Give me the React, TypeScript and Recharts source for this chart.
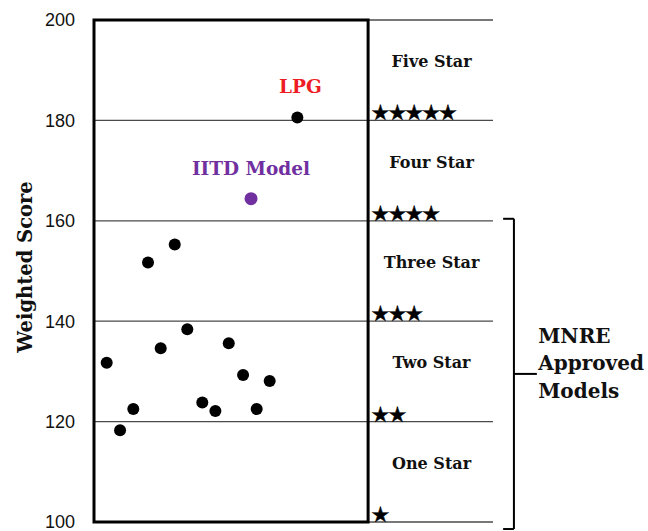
import React from 'react';
import {
  ComposedChart,
  Scatter,
  XAxis,
  YAxis,
  CartesianGrid,
  ReferenceArea,
  ReferenceLine,
  ReferenceDot,
} from 'recharts';

// ---- data ----
const modelX = [0.94, 1.93, 2.91, 4.0, 4.94, 5.98, 6.91, 8.02, 8.99, 9.98, 11.04, 12.05, 13.01];
const modelY = [131.7, 118.3, 122.5, 151.7, 134.6, 155.3, 138.4, 123.8, 122.1, 135.6, 129.3, 122.5, 128.1];
const lpgPoint = { x: 15.06, y: 180.6, name: 'LPG' };
const iitdPoint = { x: 11.63, y: 164.4, name: 'IITD Model' };
const yTicks = [100, 120, 140, 160, 180, 200];
const starBandNames = ['One Star', 'Two Star', 'Three Star', 'Four Star', 'Five Star'];
const starBandLower = [100, 120, 140, 160, 180];
const starCounts = [1, 2, 3, 4, 5];
const bracketTop = 160.4;
const bracketBottom = 98.6;
const bracketMid = 129.5;
const mnreLines = ['MNRE', 'Approved', 'Models'];

// layout helpers (domain units)
const X_MAX = 29.55;
const BOX_RIGHT = 20.3;
const BAND_LABEL_X = 25.0;
const STAR_X = 20.5;
const BRACKET_X = 31.1;
const HOOK_X = 30.3;
const MID_TICK_X = 32.8;
const MNRE_X = 32.9;

const modelData = modelX.map((x, i) => ({ x, y: modelY[i] }));

const serifBold = '"DejaVu Serif", serif';

const dot = (fill: string, r: number) => (p: any) => (
  <circle cx={p.cx} cy={p.cy} r={r} fill={fill} />
);

const center = (vb: any) => ({ cx: vb.x + (vb.width || 0) / 2, cy: vb.y + (vb.height || 0) / 2 });

export default function App() {
  return (
    <div style={{ position: 'absolute', left: 0, top: 0, background: '#fff' }}>
      <ComposedChart
        width={648}
        height={531}
        margin={{ top: 20, right: 155, bottom: 9, left: 0 }}
      >
        <CartesianGrid vertical={false} stroke="#4a4a4a" strokeWidth={1.3} />
        <XAxis type="number" dataKey="x" domain={[0, X_MAX]} hide />
        <YAxis
          type="number"
          dataKey="y"
          domain={[100, 200]}
          ticks={yTicks}
          interval={0}
          width={94}
          axisLine={false}
          tickLine={false}
          tickMargin={13}
          tick={{ fontFamily: '"Liberation Sans", sans-serif', fontSize: 18, fill: '#111' }}
          label={{
            content: (props: any) => {
              const vb = props.viewBox;
              const x = vb.x + 25;
              const y = vb.y + vb.height / 2 - 4;
              return (
                <text
                  x={x}
                  y={y}
                  transform={`rotate(-90 ${x} ${y})`}
                  textAnchor="middle"
                  dominantBaseline="central"
                  fontFamily={serifBold}
                  fontWeight="bold"
                  fontSize={19.5}
                  fill="#111"
                >
                  Weighted Score
                </text>
              );
            },
          }}
        />
        <ReferenceArea
          x1={0}
          x2={BOX_RIGHT}
          y1={100}
          y2={200}
          fill="none"
          stroke="#000"
          strokeWidth={3}
          ifOverflow="visible"
        />
        {/* bracket */}
        <ReferenceLine
          segment={[{ x: BRACKET_X, y: bracketTop }, { x: BRACKET_X, y: bracketBottom }]}
          stroke="#000"
          strokeWidth={2}
          ifOverflow="visible"
        />
        <ReferenceLine
          segment={[{ x: HOOK_X, y: bracketTop }, { x: BRACKET_X, y: bracketTop }]}
          stroke="#000"
          strokeWidth={2}
          ifOverflow="visible"
        />
        <ReferenceLine
          segment={[{ x: HOOK_X, y: bracketBottom }, { x: BRACKET_X, y: bracketBottom }]}
          stroke="#000"
          strokeWidth={2}
          ifOverflow="visible"
        />
        <ReferenceLine
          segment={[{ x: BRACKET_X, y: bracketMid }, { x: MID_TICK_X, y: bracketMid }]}
          stroke="#000"
          strokeWidth={2}
          ifOverflow="visible"
        />
        {/* band names */}
        {starBandNames.map((name, i) => (
          <ReferenceDot
            key={name}
            x={BAND_LABEL_X}
            y={starBandLower[i] + 11.7}
            r={1}
            fill="none"
            stroke="none"
            ifOverflow="visible"
            label={{
              content: (props: any) => {
                const { cx, cy } = center(props.viewBox);
                return (
                  <text
                    x={cx}
                    y={cy}
                    textAnchor="middle"
                    dominantBaseline="central"
                    fontFamily={serifBold}
                    fontWeight="bold"
                    fontSize={16}
                    fill="#111"
                  >
                    {name}
                  </text>
                );
              },
            }}
          />
        ))}
        {/* star glyphs */}
        {starCounts.map((n, i) => (
          <ReferenceDot
            key={'s' + n}
            x={STAR_X}
            y={starBandLower[i]}
            r={1}
            fill="none"
            stroke="none"
            ifOverflow="visible"
            label={{
              content: (props: any) => {
                const { cx, cy } = center(props.viewBox);
                return (
                  <text
                    x={cx}
                    y={cy}
                    textAnchor="start"
                    fontFamily='"DejaVu Sans", sans-serif'
                    fontSize={21.5}
                    letterSpacing={-2.4}
                    stroke="#000"
                    strokeWidth={0.4}
                    fill="#000"
                  >
                    {'★'.repeat(n)}
                  </text>
                );
              },
            }}
          />
        ))}
        {/* MNRE text */}
        <ReferenceDot
          x={MNRE_X}
          y={bracketMid}
          r={1}
          fill="none"
          stroke="none"
          ifOverflow="visible"
          label={{
            content: (props: any) => {
              const { cx, cy } = center(props.viewBox);
              return (
                <text
                  x={cx}
                  y={cy}
                  textAnchor="start"
                  fontFamily={serifBold}
                  fontWeight="bold"
                  fontSize={20}
                  fill="#111"
                >
                  {mnreLines.map((t, k) => (
                    <tspan key={t} x={cx} y={cy - 31 + k * 27.5}>
                      {t}
                    </tspan>
                  ))}
                </text>
              );
            },
          }}
        />
        {/* point labels */}
        <ReferenceDot
          x={lpgPoint.x}
          y={lpgPoint.y}
          r={1}
          fill="none"
          stroke="none"
          ifOverflow="visible"
          label={{
            content: (props: any) => {
              const { cx, cy } = center(props.viewBox);
              return (
                <text
                  x={cx + 3}
                  y={cy - 24}
                  textAnchor="middle"
                  fontFamily={serifBold}
                  fontWeight="bold"
                  fontSize={18.5}
                  fill="#EE1C25"
                >
                  {lpgPoint.name}
                </text>
              );
            },
          }}
        />
        <ReferenceDot
          x={iitdPoint.x}
          y={iitdPoint.y}
          r={1}
          fill="none"
          stroke="none"
          ifOverflow="visible"
          label={{
            content: (props: any) => {
              const { cx, cy } = center(props.viewBox);
              return (
                <text
                  x={cx}
                  y={cy - 23.5}
                  textAnchor="middle"
                  fontFamily={serifBold}
                  fontWeight="bold"
                  fontSize={18.5}
                  fill="#7030A0"
                >
                  {iitdPoint.name}
                </text>
              );
            },
          }}
        />
        <Scatter data={modelData} dataKey="y" shape={dot('#000', 6)} isAnimationActive={false} />
        <Scatter data={[lpgPoint]} dataKey="y" shape={dot('#000', 6)} isAnimationActive={false} />
        <Scatter data={[iitdPoint]} dataKey="y" shape={dot('#7030A0', 6.5)} isAnimationActive={false} />
      </ComposedChart>
    </div>
  );
}
